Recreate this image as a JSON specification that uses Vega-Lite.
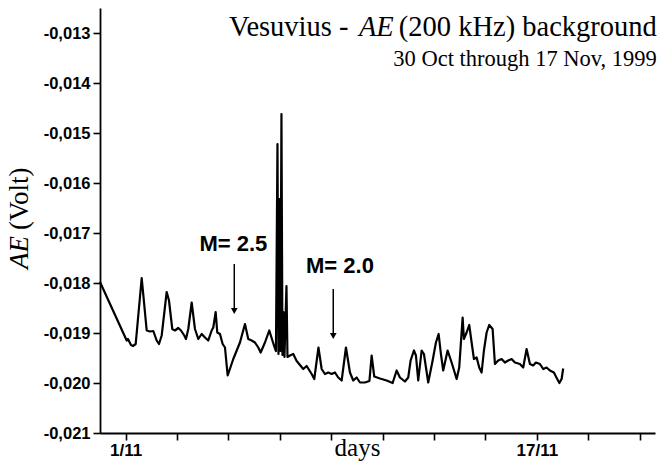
{
  "$schema": "https://vega.github.io/schema/vega-lite/v6.json",
  "width": 555,
  "height": 425,
  "autosize": {"type": "none"},
  "padding": {"left": 100, "top": 8, "right": 9, "bottom": 34},
  "background": "white",
  "config": {
    "view": {"stroke": null},
    "axis": {
      "grid": false,
      "domainColor": "black",
      "tickColor": "black",
      "labelColor": "black",
      "domainWidth": 1.8,
      "tickWidth": 1.6,
      "labelFont": "Liberation Sans",
      "labelFontWeight": "bold"
    }
  },
  "datasets": {
    "ae": [
      {"day": 0.0, "ae": -0.01798},
      {"day": 1.039, "ae": -0.01915},
      {"day": 1.089, "ae": -0.01912},
      {"day": 1.206, "ae": -0.01924},
      {"day": 1.284, "ae": -0.01926},
      {"day": 1.389, "ae": -0.01922},
      {"day": 1.623, "ae": -0.0179},
      {"day": 1.817, "ae": -0.01895},
      {"day": 1.946, "ae": -0.01897},
      {"day": 2.074, "ae": -0.01896},
      {"day": 2.206, "ae": -0.01915},
      {"day": 2.296, "ae": -0.01922},
      {"day": 2.401, "ae": -0.01905},
      {"day": 2.595, "ae": -0.01818},
      {"day": 2.685, "ae": -0.01835},
      {"day": 2.813, "ae": -0.01892},
      {"day": 2.918, "ae": -0.01895},
      {"day": 3.047, "ae": -0.0189},
      {"day": 3.152, "ae": -0.01895},
      {"day": 3.28, "ae": -0.01905},
      {"day": 3.346, "ae": -0.01912},
      {"day": 3.436, "ae": -0.01892},
      {"day": 3.568, "ae": -0.01839},
      {"day": 3.696, "ae": -0.01892},
      {"day": 3.825, "ae": -0.01912},
      {"day": 3.957, "ae": -0.01902},
      {"day": 4.086, "ae": -0.01909},
      {"day": 4.214, "ae": -0.01915},
      {"day": 4.346, "ae": -0.01895},
      {"day": 4.409, "ae": -0.01889},
      {"day": 4.502, "ae": -0.01858},
      {"day": 4.564, "ae": -0.01899},
      {"day": 4.669, "ae": -0.01902},
      {"day": 4.774, "ae": -0.01922},
      {"day": 4.864, "ae": -0.01929},
      {"day": 4.969, "ae": -0.01985},
      {"day": 5.187, "ae": -0.01952},
      {"day": 5.447, "ae": -0.01919},
      {"day": 5.642, "ae": -0.01882},
      {"day": 5.77, "ae": -0.01912},
      {"day": 5.903, "ae": -0.01915},
      {"day": 6.031, "ae": -0.01919},
      {"day": 6.16, "ae": -0.01929},
      {"day": 6.253, "ae": -0.01939},
      {"day": 6.42, "ae": -0.01919},
      {"day": 6.588, "ae": -0.01895},
      {"day": 6.77, "ae": -0.01925},
      {"day": 6.848, "ae": -0.01936},
      {"day": 6.907, "ae": -0.01522},
      {"day": 6.946, "ae": -0.01942},
      {"day": 6.984, "ae": -0.01632},
      {"day": 7.023, "ae": -0.01936},
      {"day": 7.062, "ae": -0.01462},
      {"day": 7.101, "ae": -0.01944},
      {"day": 7.14, "ae": -0.01858},
      {"day": 7.179, "ae": -0.01948},
      {"day": 7.257, "ae": -0.01806},
      {"day": 7.296, "ae": -0.01948},
      {"day": 7.393, "ae": -0.01945},
      {"day": 7.521, "ae": -0.01942},
      {"day": 7.654, "ae": -0.01956},
      {"day": 7.782, "ae": -0.01964},
      {"day": 7.911, "ae": -0.01972},
      {"day": 8.043, "ae": -0.01966},
      {"day": 8.237, "ae": -0.01982},
      {"day": 8.339, "ae": -0.01992},
      {"day": 8.502, "ae": -0.01929},
      {"day": 8.627, "ae": -0.01972},
      {"day": 8.755, "ae": -0.01982},
      {"day": 8.883, "ae": -0.01979},
      {"day": 9.016, "ae": -0.01982},
      {"day": 9.144, "ae": -0.01979},
      {"day": 9.272, "ae": -0.01989},
      {"day": 9.405, "ae": -0.01995},
      {"day": 9.572, "ae": -0.01929},
      {"day": 9.728, "ae": -0.01979},
      {"day": 9.856, "ae": -0.01995},
      {"day": 9.988, "ae": -0.01989},
      {"day": 10.117, "ae": -0.01999},
      {"day": 10.311, "ae": -0.01999},
      {"day": 10.486, "ae": -0.01996},
      {"day": 10.572, "ae": -0.01945},
      {"day": 10.673, "ae": -0.01987},
      {"day": 10.895, "ae": -0.01991},
      {"day": 11.156, "ae": -0.01995},
      {"day": 11.389, "ae": -0.02},
      {"day": 11.545, "ae": -0.01975},
      {"day": 11.673, "ae": -0.01989},
      {"day": 11.868, "ae": -0.01997},
      {"day": 11.996, "ae": -0.01989},
      {"day": 12.089, "ae": -0.01955},
      {"day": 12.218, "ae": -0.01935},
      {"day": 12.296, "ae": -0.01945},
      {"day": 12.385, "ae": -0.01995},
      {"day": 12.518, "ae": -0.01935},
      {"day": 12.607, "ae": -0.01942},
      {"day": 12.774, "ae": -0.01999},
      {"day": 12.946, "ae": -0.01955},
      {"day": 13.074, "ae": -0.01919},
      {"day": 13.179, "ae": -0.01902},
      {"day": 13.268, "ae": -0.01942},
      {"day": 13.358, "ae": -0.01975},
      {"day": 13.529, "ae": -0.01935},
      {"day": 13.685, "ae": -0.01959},
      {"day": 13.879, "ae": -0.01992},
      {"day": 13.981, "ae": -0.01969},
      {"day": 14.113, "ae": -0.01869},
      {"day": 14.163, "ae": -0.01912},
      {"day": 14.268, "ae": -0.01899},
      {"day": 14.37, "ae": -0.01884},
      {"day": 14.463, "ae": -0.01919},
      {"day": 14.553, "ae": -0.01952},
      {"day": 14.658, "ae": -0.01949},
      {"day": 14.759, "ae": -0.01969},
      {"day": 14.852, "ae": -0.01979},
      {"day": 14.942, "ae": -0.01935},
      {"day": 15.047, "ae": -0.01899},
      {"day": 15.148, "ae": -0.01884},
      {"day": 15.28, "ae": -0.01892},
      {"day": 15.37, "ae": -0.01962},
      {"day": 15.498, "ae": -0.01955},
      {"day": 15.63, "ae": -0.01952},
      {"day": 15.759, "ae": -0.01959},
      {"day": 15.887, "ae": -0.01955},
      {"day": 16.019, "ae": -0.01952},
      {"day": 16.148, "ae": -0.01959},
      {"day": 16.342, "ae": -0.01962},
      {"day": 16.471, "ae": -0.01969},
      {"day": 16.603, "ae": -0.01932},
      {"day": 16.732, "ae": -0.01962},
      {"day": 16.86, "ae": -0.01965},
      {"day": 16.965, "ae": -0.01959},
      {"day": 17.121, "ae": -0.01962},
      {"day": 17.249, "ae": -0.01972},
      {"day": 17.381, "ae": -0.01969},
      {"day": 17.51, "ae": -0.01975},
      {"day": 17.665, "ae": -0.01979},
      {"day": 17.794, "ae": -0.01992},
      {"day": 17.879, "ae": -0.02},
      {"day": 17.965, "ae": -0.01992},
      {"day": 18.027, "ae": -0.01971}
    ]
  },
  "layer": [
    {
      "data": {"name": "ae"},
      "mark": {"type": "line", "color": "black", "strokeWidth": 2.2, "strokeJoin": "round"},
      "encoding": {
        "x": {
          "field": "day",
          "type": "quantitative",
          "scale": {"domain": [0, 21.6], "nice": false, "zero": false},
          "axis": {
            "values": [1, 2, 3, 4, 5, 6, 7, 8, 9, 10, 11, 12, 13, 14, 15, 16, 17, 18, 19, 20, 21],
            "labelExpr": "datum.value == 1 ? '1/11' : (datum.value == 17 ? '17/11' : '')",
            "labelOverlap": false,
            "labelFlush": false,
            "labelFontSize": 17,
            "labelPadding": 2,
            "tickSize": 7,
            "title": "days",
            "titleFont": "Liberation Serif",
            "titleFontSize": 25,
            "titleFontWeight": "normal",
            "titleColor": "black",
            "titleX": 257,
            "titleY": 22,
            "titleAlign": "center",
            "titleBaseline": "alphabetic"
          }
        },
        "y": {
          "field": "ae",
          "type": "quantitative",
          "scale": {"domain": [-0.021, -0.0125], "nice": false, "zero": false},
          "axis": {
            "values": [-0.021, -0.0205, -0.02, -0.0195, -0.019, -0.0185, -0.018, -0.0175, -0.017, -0.0165, -0.016, -0.0155, -0.015, -0.0145, -0.014, -0.0135, -0.013, -0.0125],
            "labelExpr": "abs(round(datum.value * 2000)) % 2 == 1 ? '' : '-0,0' + round(abs(datum.value) * 1000)",
            "labelOverlap": false,
            "labelFontSize": 16.5,
            "labelPadding": 3,
            "tickSize": 7,
            "title": null
          }
        }
      }
    },
    {
      "data": {"values": [{}]},
      "mark": {"type": "text", "text": "Vesuvius -", "font": "Liberation Serif", "fontSize": 28.5, "align": "left", "baseline": "alphabetic", "color": "black"},
      "encoding": {"x": {"datum": 5.019}, "y": {"datum": -0.01306}}
    },
    {
      "data": {"values": [{}]},
      "mark": {"type": "text", "text": "AE", "font": "Liberation Serif", "fontStyle": "italic", "fontSize": 28.5, "align": "left", "baseline": "alphabetic", "color": "black"},
      "encoding": {"x": {"datum": 10.078}, "y": {"datum": -0.01306}}
    },
    {
      "data": {"values": [{}]},
      "mark": {"type": "text", "text": "(200 kHz) background", "font": "Liberation Serif", "fontSize": 28.5, "align": "right", "baseline": "alphabetic", "color": "black"},
      "encoding": {"x": {"datum": 21.673}, "y": {"datum": -0.01306}}
    },
    {
      "data": {"values": [{}]},
      "mark": {"type": "text", "text": "30 Oct through 17 Nov, 1999", "font": "Liberation Serif", "fontSize": 22.5, "align": "right", "baseline": "alphabetic", "color": "black"},
      "encoding": {"x": {"datum": 21.673}, "y": {"datum": -0.01365}}
    },
    {
      "data": {"values": [{}]},
      "mark": {"type": "text", "text": "AE", "font": "Liberation Serif", "fontStyle": "italic", "fontSize": 27, "angle": 270, "align": "left", "baseline": "alphabetic", "color": "black"},
      "encoding": {"x": {"datum": -2.8}, "y": {"datum": -0.01772}}
    },
    {
      "data": {"values": [{}]},
      "mark": {"type": "text", "text": "(Volt)", "font": "Liberation Serif", "fontSize": 27, "angle": 270, "align": "left", "baseline": "alphabetic", "color": "black"},
      "encoding": {"x": {"datum": -2.8}, "y": {"datum": -0.01694}}
    },
    {
      "data": {"values": [{}]},
      "mark": {"type": "text", "text": "M= 2.5", "font": "Liberation Sans", "fontWeight": "bold", "fontSize": 22, "align": "center", "baseline": "alphabetic", "color": "black"},
      "encoding": {"x": {"datum": 5.19}, "y": {"datum": -0.017354}}
    },
    {
      "data": {"values": [{}]},
      "mark": {"type": "text", "text": "M= 2.0", "font": "Liberation Sans", "fontWeight": "bold", "fontSize": 22, "align": "center", "baseline": "alphabetic", "color": "black"},
      "encoding": {"x": {"datum": 9.339}, "y": {"datum": -0.01779}}
    },
    {
      "data": {"values": [{}]},
      "mark": {"type": "rule", "color": "black", "strokeWidth": 1.5},
      "encoding": {"x": {"datum": 5.226}, "y": {"datum": -0.01762}, "y2": {"datum": -0.01856}}
    },
    {
      "data": {"values": [{}]},
      "mark": {"type": "point", "shape": "triangle-down", "filled": true, "color": "black", "size": 45, "opacity": 1},
      "encoding": {"x": {"datum": 5.226}, "y": {"datum": -0.01856}}
    },
    {
      "data": {"values": [{}]},
      "mark": {"type": "rule", "color": "black", "strokeWidth": 1.5},
      "encoding": {"x": {"datum": 9.078}, "y": {"datum": -0.01812}, "y2": {"datum": -0.01906}}
    },
    {
      "data": {"values": [{}]},
      "mark": {"type": "point", "shape": "triangle-down", "filled": true, "color": "black", "size": 45, "opacity": 1},
      "encoding": {"x": {"datum": 9.078}, "y": {"datum": -0.01906}}
    }
  ]
}
